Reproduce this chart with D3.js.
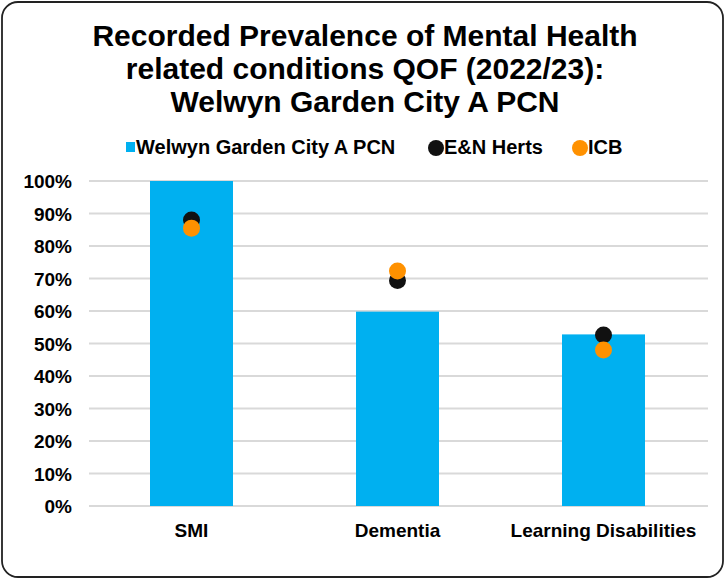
<!DOCTYPE html>
<html><head><meta charset="utf-8">
<script src="https://cdn.jsdelivr.net/npm/d3@7"></script>
<style>body{margin:0;background:#fff}svg{display:block}text{font-family:"Liberation Sans",Arial,sans-serif;font-weight:bold}</style>
</head><body>
<script>
const categories = ["SMI", "Dementia", "Learning Disabilities"];
const pcnValues = [100, 59.8, 52.8];
const enHertsValues = [88.0, 69.4, 52.6];
const icbValues = [85.5, 72.3, 48.0];
const yTicks = [0,10,20,30,40,50,60,70,80,90,100];
const titleLines = ["Recorded Prevalence of Mental Health", "related conditions QOF (2022/23):", "Welwyn Garden City A PCN"];
const seriesNames = ["Welwyn Garden City A PCN", "E&N Herts", "ICB"];
const colors = {pcn:"#00b0f0", en:"#111111", icb:"#ff9100"};

const W=726,H=580;
const svg=d3.select("body").append("svg").attr("width",W).attr("height",H);
svg.append("rect").attr("x",2).attr("y",2).attr("width",W-5).attr("height",H-5).attr("rx",16)
  .attr("fill","#fff").attr("stroke","#222").attr("stroke-width",1.8);

svg.selectAll(".title").data(titleLines).join("text")
  .attr("x",365).attr("y",(d,i)=>46+i*33).attr("text-anchor","middle")
  .attr("font-size",30).attr("fill","#000").text(d=>d);

const y=d3.scaleLinear().domain([0,100]).range([506,181]);
const bx = d3.scaleBand().domain(categories).range([88.5,706.5]);
const bw = 83;

const g=svg.append("g");
g.selectAll(".grid").data(yTicks).join("line")
  .attr("x1",89).attr("x2",708).attr("y1",d=>y(d)).attr("y2",d=>y(d))
  .attr("stroke","#d9d9d9").attr("stroke-width",2);

const yAxis=d3.axisLeft(y).tickValues(yTicks).tickFormat(d=>d+"%").tickSize(0).tickPadding(0);
const ya=svg.append("g").attr("transform","translate(72,0)").call(yAxis);
ya.select(".domain").remove();
ya.selectAll("text").attr("font-size",19).attr("fill","#000").attr("dy","0.35em")
  .style("font-family","'Liberation Sans',Arial,sans-serif").style("font-weight","bold");

g.selectAll(".bar").data(categories).join("rect")
  .attr("x",d=>bx(d)+bx.bandwidth()/2-bw/2).attr("width",bw)
  .attr("y",(d,i)=>y(pcnValues[i])).attr("height",(d,i)=>y(0)-y(pcnValues[i]))
  .attr("fill",colors.pcn);

g.selectAll(".en").data(categories).join("circle")
  .attr("cx",d=>bx(d)+bx.bandwidth()/2).attr("cy",(d,i)=>y(enHertsValues[i])).attr("r",8.5)
  .attr("fill",colors.en);
g.selectAll(".icb").data(categories).join("circle")
  .attr("cx",d=>bx(d)+bx.bandwidth()/2).attr("cy",(d,i)=>y(icbValues[i])).attr("r",8.5)
  .attr("fill",colors.icb);

const xa=svg.append("g").attr("transform","translate(0,506)").call(d3.axisBottom(bx).tickSize(0).tickPadding(0));
xa.select(".domain").remove();
xa.selectAll("text").attr("font-size",19).attr("fill","#000").attr("y",31)
  .style("font-family","'Liberation Sans',Arial,sans-serif").style("font-weight","bold").attr("dy","0");

// legend
const lg=svg.append("g");
lg.append("rect").attr("x",126).attr("y",142).attr("width",9).attr("height",10).attr("fill",colors.pcn);
lg.append("text").attr("x",136).attr("y",154).attr("font-size",20).text(seriesNames[0]);
lg.append("circle").attr("cx",436).attr("cy",148).attr("r",8).attr("fill",colors.en);
lg.append("text").attr("x",444).attr("y",154).attr("font-size",20).text(seriesNames[1]);
lg.append("circle").attr("cx",580).attr("cy",148).attr("r",8).attr("fill",colors.icb);
lg.append("text").attr("x",588).attr("y",154).attr("font-size",20).text(seriesNames[2]);
</script>
</body></html>
